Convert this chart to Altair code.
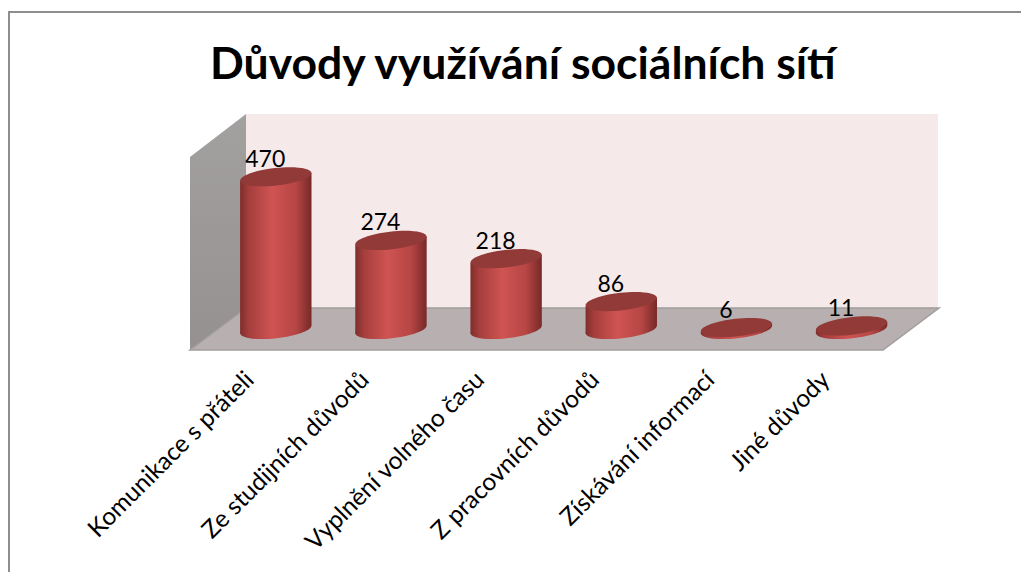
import math
import altair as alt
import pandas as pd

categories = ["Komunikace s přáteli", "Ze studijních důvodů", "Vyplnění volného času",
              "Z pracovních důvodů", "Získávání informací", "Jiné důvody"]
values = [470, 274, 218, 86, 6, 11]
title_text = "Důvody využívání sociálních sítí"

# decorative 3-D box, in page pixels
left_wall_x = [190, 246]
left_wall_top = [157, 114]
left_wall_bottom = [350, 308]
floor_y = [308, 350]
floor_x = [246, 190]
floor_x2 = [939, 883]
back_wall = [{"x": 246, "x2": 938, "y": 114, "y2": 308}]

WIDTH, HEIGHT = 1013, 564
HALF = 0.31       # half a cylinder, in category steps
TILT = 12.3       # slope of the ellipses, in value units
FONT = "Lato"

px_x = alt.Scale(domain=[8, 8 + WIDTH], range=[0, WIDTH], zero=False, nice=False)
px_y = alt.Scale(domain=[8, 8 + HEIGHT], range=[0, HEIGHT], zero=False, nice=False)
idx_x = alt.Scale(domain=[0, 5], range=[267.8, 843.6], zero=False, nice=False)
val_y = alt.Scale(domain=[0, 500], range=[321.5, 159], zero=False, nice=False)

X = lambda f, s: alt.X(f, type="quantitative", scale=s, axis=None)
Y = lambda f, s: alt.Y(f, type="quantitative", scale=s, axis=None)

df = pd.DataFrame({"cat": categories, "i": range(6), "v": values})
body_rows = []
for i, v in enumerate(values):
    body_rows.append({"cat": categories[i], "x": i - HALF, "top": v - TILT, "base": -TILT})
    body_rows.append({"cat": categories[i], "x": i + HALF, "top": v + TILT, "base": TILT})
body = pd.DataFrame(body_rows)

red = alt.Gradient(gradient="linear", x1=0, x2=1, y1=0, y2=0, stops=[
    alt.GradientStop(offset=0, color="#7e2e2c"),
    alt.GradientStop(offset=0.12, color="#a53e3c"),
    alt.GradientStop(offset=0.45, color="#cf5452"),
    alt.GradientStop(offset=0.78, color="#b64644"),
    alt.GradientStop(offset=1, color="#772928"),
])


def tilted_ellipse(a=1.0, b=0.245, deg=-6.5):
    c, s = math.cos(math.radians(deg)), math.sin(math.radians(deg))
    k = 0.5523
    pts = [(-a, 0), (-a, -k * b), (-k * a, -b), (0, -b), (k * a, -b), (a, -k * b), (a, 0),
           (a, k * b), (k * a, b), (0, b), (-k * a, b), (-a, k * b), (-a, 0)]
    r = [f"{c * x - s * y:.4f} {s * x + c * y:.4f}" for x, y in pts]
    return f"M {r[0]} " + " ".join(f"C {r[i]} {r[i + 1]} {r[i + 2]}" for i in range(1, 12, 3)) + " Z"


ELLIPSE = tilted_ellipse()
E_SIZE = 5127

wall_left = alt.Chart(pd.DataFrame({"x": left_wall_x, "y": left_wall_top, "y2": left_wall_bottom})).mark_area(
    color=alt.Gradient(gradient="linear", x1=0, x2=0, y1=0, y2=1, stops=[
        alt.GradientStop(offset=0, color="#a3a0a0"),
        alt.GradientStop(offset=1, color="#959191"),
    ])
).encode(x=X("x", px_x), y=Y("y", px_y), y2="y2")

wall_back = alt.Chart(pd.DataFrame(back_wall)).mark_rect(color="#f5e9ea").encode(
    x=X("x", px_x), x2="x2", y=Y("y", px_y), y2="y2")

floor = alt.Chart(pd.DataFrame({"y": floor_y, "x": floor_x, "x2": floor_x2})).mark_area(
    orient="horizontal", color="#b8b0b0", stroke="#a09d9d", strokeWidth=1.5
).encode(y=Y("y", px_y), x=X("x", px_x), x2="x2")

frame_top = alt.Chart(pd.DataFrame({"x": [8], "x2": [8 + WIDTH], "y": [12]})).mark_rule(
    color="#8e8e8e", strokeWidth=2).encode(x=X("x", px_x), x2="x2", y=Y("y", px_y))
frame_left = alt.Chart(pd.DataFrame({"x": [9], "y": [12], "y2": [8 + HEIGHT]})).mark_rule(
    color="#8e8e8e", strokeWidth=2).encode(x=X("x", px_x), y=Y("y", px_y), y2="y2")

bottoms = alt.Chart(df).mark_point(shape=ELLIPSE, filled=True, size=E_SIZE, opacity=1, fill=red, strokeWidth=0).encode(
    x=X("i", idx_x), y=alt.Y(datum=0, type="quantitative", scale=val_y, axis=None))
bodies = alt.Chart(body).mark_area(color=red).encode(
    x=X("x", idx_x), y=Y("top", val_y), y2="base", detail="cat:N")
tops = alt.Chart(df).mark_point(shape=ELLIPSE, filled=True, size=E_SIZE, opacity=1, fill="#913a38", strokeWidth=0).encode(
    x=X("i", idx_x), y=Y("v", val_y))

numbers = alt.Chart(df).mark_text(font=FONT, fontSize=23, color="#000000", dx=-10.5, dy=-17).encode(
    x=X("i", idx_x), y=Y("v", val_y), text="v:Q")
labels = alt.Chart(df).mark_text(font=FONT, fontSize=24.5, color="#000000", angle=315, align="right",
                                 baseline="middle", dx=-26, dy=-10).encode(
    x=X("i", idx_x), y=alt.value(357), text="cat:N")

chart = alt.layer(frame_top, frame_left, wall_left, wall_back, floor, bottoms, bodies, tops, numbers, labels).resolve_scale(
    x="independent", y="independent"
).properties(
    width=WIDTH, height=HEIGHT, padding=0,
    autosize=alt.AutoSizeParams(type="none"),
    title=alt.TitleParams(title_text, font=FONT, fontSize=44.5, fontWeight="bold", color="#000000",
                          anchor="start", frame="group", dx=202, dy=80, offset=0),
).configure_view(stroke=None)

chart.save("out.html", embed_options={"renderer": "svg", "actions": False})
